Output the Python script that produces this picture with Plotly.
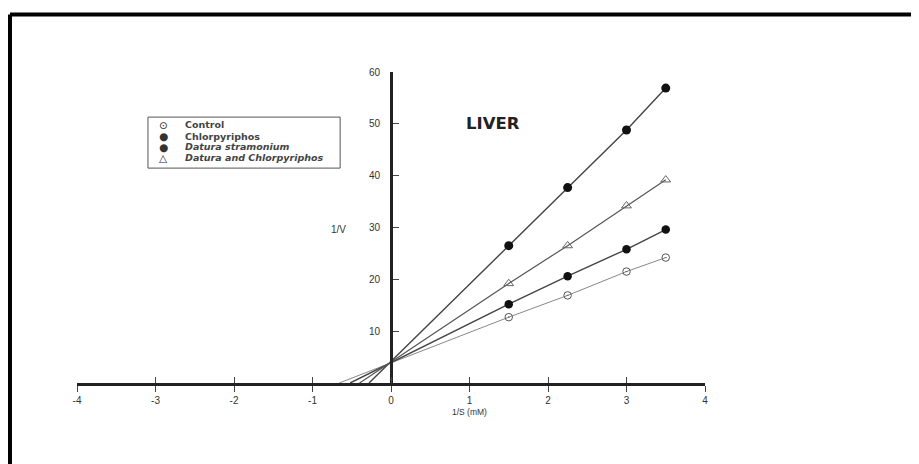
import plotly.graph_objects as go

# ---- data ----
inv_s = [1.5, 2.25, 3.0, 3.5]
control = [12.7, 16.9, 21.5, 24.2]
chlorpyriphos = [26.5, 37.7, 48.8, 56.9]
datura = [15.2, 20.6, 25.8, 29.6]
datura_chlor = [19.2, 26.5, 34.2, 39.2]
# extrapolated x-intercepts (-1/Km) of each Lineweaver-Burk line
xint_control = -0.66
xint_chlor = -0.28
xint_datura = -0.52
xint_datura_chlor = -0.40

x_ticks = [-4, -3, -2, -1, 0, 1, 2, 3, 4]
y_ticks = [10, 20, 30, 40, 50, 60]

series = [
    ("Control", control, xint_control, dict(symbol="circle-open-dot", size=7.5, color="#555", line=dict(width=1, color="#555")), dict(color="#888", width=1)),
    ("Chlorpyriphos", chlorpyriphos, xint_chlor, dict(symbol="circle", size=9, color="#111"), dict(color="#444", width=1.4)),
    ("Datura stramonium", datura, xint_datura, dict(symbol="circle", size=8.5, color="#111"), dict(color="#444", width=1.4)),
    ("Datura and Chlorpyriphos", datura_chlor, xint_datura_chlor, dict(symbol="triangle-up-open", size=8.5, color="#666", line=dict(width=1, color="#666")), dict(color="#555", width=1.2)),
]

fig = go.Figure()
for name, ys, xi, mk, ln in series:
    fig.add_trace(go.Scatter(x=[xi] + inv_s, y=[0] + ys, mode="lines", line=ln,
                             showlegend=False, hoverinfo="skip"))
for name, ys, xi, mk, ln in series:
    fig.add_trace(go.Scatter(x=inv_s, y=ys, mode="markers", marker=mk, name=name,
                             showlegend=False))

# dummy trace for overlay axis (crossing ticks)
fig.add_trace(go.Scatter(x=[None], y=[None], xaxis="x2", yaxis="y", showlegend=False))

axfont = dict(family="Liberation Sans, Arial, sans-serif", size=10, color="#333")
fig.update_layout(
    width=911, height=456,
    margin=dict(l=69, r=214, t=64, b=81),
    paper_bgcolor="white", plot_bgcolor="white",
    xaxis=dict(range=[-4, 4], tickvals=x_ticks, ticktext=[str(v) for v in x_ticks],
               showgrid=False, zeroline=False, showline=True, linecolor="#222", linewidth=3,
               ticks="outside", ticklen=6, tickwidth=1, tickcolor="#444",
               tickfont=axfont, anchor="y"),
    xaxis2=dict(range=[-4, 4], tickvals=x_ticks, overlaying="x", anchor="y", side="bottom",
                showgrid=False, zeroline=False, showline=False,
                ticks="inside", ticklen=6, tickwidth=1, tickcolor="#444",
                showticklabels=False),
    yaxis=dict(range=[0, 60], tickvals=y_ticks, showgrid=False, zeroline=False,
               showline=True, linecolor="#222", linewidth=3,
               anchor="free", position=0.5, side="left",
               ticks="inside", ticklen=6, tickwidth=1, tickcolor="#444",
               tickfont=axfont, ticklabelstandoff=8),
    showlegend=False,
)

# frame (top and left edges)
fig.add_shape(type="line", xref="paper", yref="paper", x0=-0.1067, x1=1.4, y0=1.185, y1=1.185,
              line=dict(color="black", width=4))
fig.add_shape(type="line", xref="paper", yref="paper", x0=-0.1067, x1=-0.1067, y0=1.185, y1=-0.35,
              line=dict(color="black", width=4))

# labels
fig.add_annotation(x=1.3, y=50, xref="x", yref="y", text="<b>LIVER</b>", showarrow=False,
                   xanchor="center", yanchor="middle",
                   font=dict(family="DejaVu Sans", size=16.5, color="#222"))
fig.add_annotation(x=-0.675, y=29.7, xref="x", yref="y", text="1/V", showarrow=False,
                   xanchor="center", yanchor="middle",
                   font=dict(family="Liberation Sans, Arial, sans-serif", size=10, color="#333"))
fig.add_annotation(x=1.0, y=-0.093, xref="x", yref="paper", text="1/S (mM)", showarrow=False,
                   xanchor="center", yanchor="middle",
                   font=dict(family="Liberation Sans, Arial, sans-serif", size=8.5, color="#333"))

# manual legend
fig.add_shape(type="rect", xref="paper", yref="paper", x0=0.113, x1=0.419, y0=0.691, y1=0.855,
              line=dict(color="#555", width=1), fillcolor="white")
leg_syms = ["⊙", "●", "●", "△"]
leg_text = ["<b>Control</b>", "<b>Chlorpyriphos</b>", "<b><i>Datura stramonium</i></b>",
            "<b><i>Datura and Chlorpyriphos</i></b>"]
leg_y = [0.8296, 0.794, 0.759, 0.7235]
for s, t, yy in zip(leg_syms, leg_text, leg_y):
    fig.add_annotation(x=0.137, y=yy, xref="paper", yref="paper", text=s, showarrow=False,
                       xanchor="center", yanchor="middle",
                       font=dict(family="DejaVu Sans", size=10.5, color="#333"))
    fig.add_annotation(x=0.168, y=yy, xref="paper", yref="paper", text=t, showarrow=False,
                       xanchor="left", yanchor="middle",
                       font=dict(family="DejaVu Sans", size=9.5, color="#444"))

fig.write_html("out.html")
